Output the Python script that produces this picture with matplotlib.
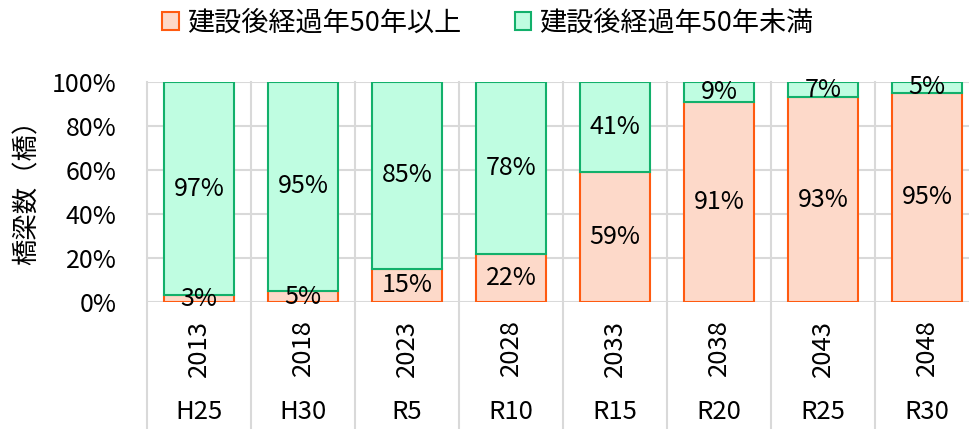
import matplotlib.pyplot as plt
import numpy as np

plt.rcParams['font.family'] = ['Noto Sans CJK JP', 'DejaVu Sans']

years = ['2013', '2018', '2023', '2028', '2033', '2038', '2043', '2048']
eras = ['H25', 'H30', 'R5', 'R10', 'R15', 'R20', 'R25', 'R30']
over50 = [3, 5, 15, 22, 59, 91, 93, 95]
under50 = [97, 95, 85, 78, 41, 9, 7, 5]

orange_fill, orange_edge = '#fdd9c9', '#ff5a10'
green_fill, green_edge = '#bffde1', '#12b06b'
grid_col = '#d9d9d9'

fig = plt.figure(figsize=(9.7, 4.29), dpi=100)
ax = fig.add_axes([147 / 970, 127 / 429, 832 / 970, 220 / 429])

x = np.arange(len(years))
w = 0.67
b1 = ax.bar(x, over50, w, color=orange_fill, edgecolor=orange_edge, linewidth=1.5,
            label='建設後経過年50年以上', zorder=3)
b2 = ax.bar(x, under50, w, bottom=over50, color=green_fill, edgecolor=green_edge,
            linewidth=1.5, label='建設後経過年50年未満', zorder=3)

for i in range(len(x)):
    ax.text(x[i], over50[i] / 2, f'{over50[i]}%', ha='center', va='center',
            fontsize=18, zorder=4)
    ax.text(x[i], over50[i] + under50[i] / 2, f'{under50[i]}%', ha='center',
            va='center', fontsize=18, zorder=4)

ax.set_xlim(-0.5, len(x) - 0.5)
ax.set_ylim(0, 100)
ax.set_yticks(range(0, 101, 20))
ax.set_yticklabels([f'{v}%' for v in range(0, 101, 20)], fontsize=18)
ax.tick_params(axis='y', length=0, pad=22)
ax.set_xticks([])
for s in ax.spines.values():
    s.set_visible(False)

for v in range(0, 101, 20):
    ax.axhline(v, color=grid_col, linewidth=1.5, zorder=1)
# category separators, running down through the label area
for b in np.arange(-0.5, len(x), 1):
    ax.plot([b, b], [-0.6, 1], transform=ax.get_xaxis_transform(),
            color=grid_col, linewidth=1.5, clip_on=False, zorder=1)

for i in range(len(x)):
    ax.text(x[i], -0.08, years[i], transform=ax.get_xaxis_transform(),
            rotation=90, ha='center', va='top', fontsize=18.5)
    ax.text(x[i], -0.5, eras[i], transform=ax.get_xaxis_transform(),
            ha='center', va='center', fontsize=18.5)

ax.set_ylabel('橋梁数（橋）', fontsize=19)
ax.yaxis.set_label_coords(-0.128, 0.53)

fig.legend(handles=[b1, b2], loc='center', bbox_to_anchor=(488 / 970, 1 - 23 / 429),
           ncol=2, frameon=False, fontsize=19.5, handlelength=0.6, handleheight=0.6,
           handletextpad=0.3, columnspacing=2.0)

fig.savefig('out.png', dpi=100)
